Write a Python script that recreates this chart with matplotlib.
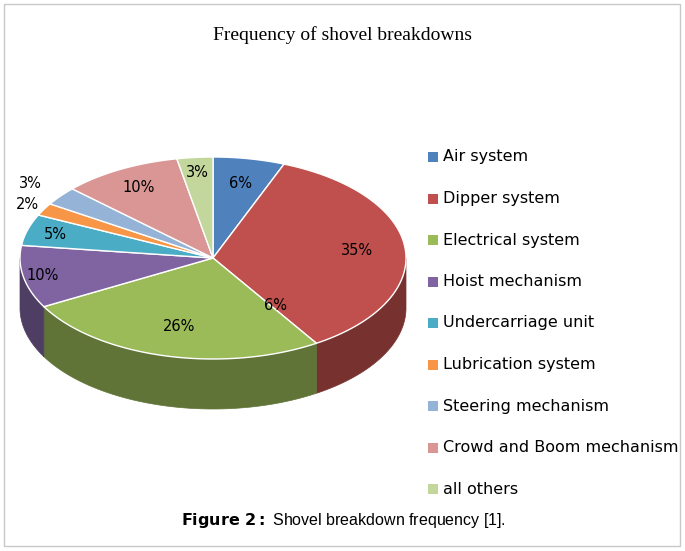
import numpy as np
import matplotlib
matplotlib.use("Agg")
import matplotlib.pyplot as plt
from matplotlib.patches import Polygon, Rectangle
from matplotlib.colors import to_rgb

categories = ["Air system", "Dipper system", "Electrical system", "Hoist mechanism",
              "Undercarriage unit", "Lubrication system", "Steering mechanism",
              "Crowd and Boom mechanism", "all others"]
values = [6, 35, 26, 10, 5, 2, 3, 10, 3]
labels = ["6%", "35%", "26%", "10%", "5%", "2%", "3%", "10%", "3%"]
colors = ["#4F81BD", "#C0504D", "#9BBB59", "#8064A2", "#4BACC6", "#F79646",
          "#95B3D7", "#D99694", "#C3D69B"]

W, H = 685, 551
fig = plt.figure(figsize=(W/100, H/100), dpi=100)
ax = fig.add_axes([0, 0, 1, 1])
ax.set_xlim(0, W); ax.set_ylim(H, 0); ax.axis("off")
ax.add_patch(Rectangle((4, 4), W-9, H-9, fill=False, ec="#c8c8c8", lw=1))

cx, cy, rx, ry, depth = 213, 258, 193, 101, 50
def pt(t, d=0):
    return cx + rx*np.cos(t), cy - ry*np.sin(t) + d

tot = sum(values)
start = np.pi/2
angs = []
a = start
for v in values:
    b = a - 2*np.pi*v/tot
    angs.append((a, b)); a = b

# sides
for (a, b), c in zip(angs, colors):
    ts = np.linspace(b, a, 200)
    ts = ts[np.sin(ts) < 0.001]
    if len(ts) < 2:
        continue
    top = [pt(t) for t in ts]
    bot = [pt(t, depth) for t in ts[::-1]]
    dc = tuple(np.array(to_rgb(c))*0.62)
    ax.add_patch(Polygon(top+bot, closed=True, fc=dc, ec=dc, lw=0.5))
# tops
for (a, b), c in zip(angs, colors):
    ts = np.linspace(a, b, 200)
    ptsl = [(cx, cy)] + [pt(t) for t in ts]
    ax.add_patch(Polygon(ptsl, closed=True, fc=c, ec="white", lw=1))

lab_r = [0.75, 0.75, 0.7, 0.9, 0.85, 1.1, 1.2, 0.8, 0.85]
for (a, b), lab, r in zip(angs, labels, lab_r):
    m = (a+b)/2
    x, y = cx + r*rx*np.cos(m), cy - r*ry*np.sin(m)
    ax.text(x, y, lab, ha="center", va="center", fontsize=10.5, family="DejaVu Sans")
ax.text(276, 306, "6%", ha="center", va="center", fontsize=10.5)

ax.text(343, 35, "Frequency of shovel breakdowns", ha="center", va="center",
        fontsize=14, family="Liberation Serif")

y0, dy = 157, 41.5
for i, (c, n) in enumerate(zip(colors, categories)):
    y = y0 + i*dy
    ax.add_patch(Rectangle((428, y-5), 10, 10, fc=c, ec="none"))
    ax.text(443, y, n, va="center", fontsize=11.5, family="DejaVu Sans")

ax.text(343, 521, r"$\bf{Figure\ 2:}$ Shovel breakdown frequency [1].", ha="center",
        va="center", fontsize=11.5, family="Liberation Sans")
fig.savefig("out.png", dpi=100)
